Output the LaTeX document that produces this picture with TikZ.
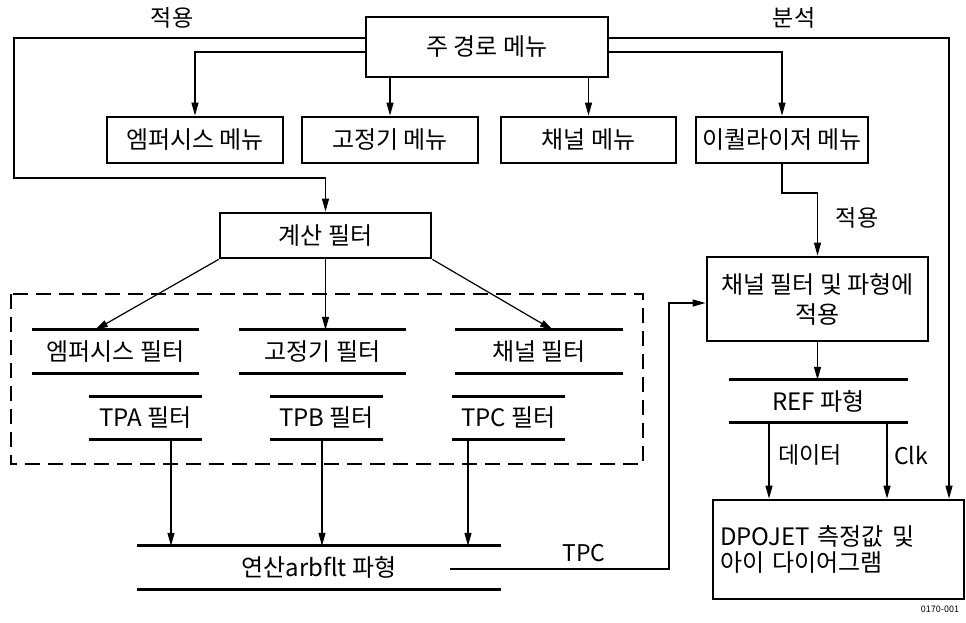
\documentclass[tikz,border=0pt]{standalone}
\usepackage{fontspec}
\setmainfont{Noto Sans CJK KR}
\usetikzlibrary{arrows.meta,calc}
\begin{document}
\begin{tikzpicture}[x=1pt,y=-1pt,
  txt/.style={font=\fontsize{24}{30}\selectfont},
  box/.style={draw,line width=2.8pt,inner sep=0pt,txt},
  bar/.style={inner sep=0pt,txt},
  barline/.style={line width=2.8pt},
  conn/.style={line width=1.2pt,-{Triangle[length=13pt,width=7pt]}},
  lbl/.style={inner sep=0pt,font=\fontsize{23}{26}\selectfont},
  dashbox/.style={line width=1.2pt,dash pattern=on 15pt off 8pt}]
\useasboundingbox (0,0) rectangle (966,623);

% boxes
\node[box,minimum width=242pt,minimum height=60pt] (main) at (487,47) {주 경로 메뉴};
\node[box,minimum width=176pt,minimum height=46pt] (m1) at (195,140) {엠퍼시스 메뉴};
\node[box,minimum width=176pt,minimum height=46pt] (m2) at (390,140) {고정기 메뉴};
\node[box,minimum width=175pt,minimum height=46pt] (m3) at (588.5,140) {채널 메뉴};
\node[box,minimum width=172pt,minimum height=46pt] (m4) at (782,140) {이퀄라이저 메뉴};
\node[box,minimum width=211pt,minimum height=45pt] (calc) at (325.5,235.5) {계산 필터};
\node[box,minimum width=221pt,minimum height=84pt,align=center] (apply) at (817.5,299) {채널 필터 및 파형에\\적용};
\node[box,minimum width=251pt,minimum height=99pt,text width=237pt,align=left,
      font=\fontsize{24}{26}\selectfont] (dpo) at (838.5,549.5) {DPOJET 측정값 및\\아이 다이어그램};

% dashed group
\draw[dashbox] (11,294) rectangle (643,464);

% bar nodes
\node[bar,minimum width=167pt,minimum height=43pt] (f1) at (115.5,351.5) {엠퍼시스 필터};
\node[bar,minimum width=167pt,minimum height=43pt] (f2) at (322.5,351.5) {고정기 필터};
\node[bar,minimum width=168pt,minimum height=43pt] (f3) at (539,351.5) {채널 필터};
\node[bar,minimum width=113pt,minimum height=42pt] (t1) at (145.5,418) {TPA 필터};
\node[bar,minimum width=113pt,minimum height=42pt] (t2) at (326.5,418) {TPB 필터};
\node[bar,minimum width=113pt,minimum height=42pt] (t3) at (508.5,418) {TPC 필터};
\node[bar,minimum width=364pt,minimum height=43pt] (arb) at (319,567.5) {연산arbflt 파형};
\node[bar,minimum width=179pt,minimum height=42pt] (ref) at (818.5,401) {REF 파형};
\foreach \n in {f1,f2,f3,t1,t2,t3,arb,ref}
  \draw[barline] (\n.north west) -- (\n.north east) (\n.south west) -- (\n.south east);

% coordinates
\coordinate (la) at (14,38);
\coordinate (lb) at (14,178);
\coordinate (ya) at (0,52);
\coordinate (ra) at (949,38);
\coordinate (eq) at (0,193);
\coordinate (fa) at (95,330);
\coordinate (fc) at (553,330);
\coordinate (x1) at (171,0);
\coordinate (x2) at (322,0);
\coordinate (x3) at (468,0);
\coordinate (tp1) at (450,569);
\coordinate (tp2) at (669,569);
\coordinate (tp3) at (669,303);
\coordinate (rx1) at (769,0);
\coordinate (rx2) at (887,0);

% connectors
\draw[conn] (main.west |- la) -- (la) -- (lb) -- (calc.north |- lb) -- (calc.north);
\draw[conn] (main.west |- ya) -| (m1.north);
\draw[conn] (main.east |- ya) -| (m4.north);
\draw[conn] (m2.north |- main.south) -- (m2.north);
\draw[conn] (m3.north |- main.south) -- (m3.north);
\draw[conn] (main.east |- ra) -- (ra) -- (ra |- dpo.north);
\draw[conn] (m4.south) -- (m4.south |- eq) -| (apply.north);
\draw[conn] (calc.south west) -- (fa);
\draw[conn] (calc.south) -- (calc.south |- f2.north);
\draw[conn] (calc.south east) -- (fc);
\draw[conn] (t1.south -| x1) -- (arb.north -| x1);
\draw[conn] (t2.south -| x2) -- (arb.north -| x2);
\draw[conn] (t3.south -| x3) -- (arb.north -| x3);
\draw[conn] (tp1) -- (tp2) -- (tp3) -- (apply.west |- tp3);
\draw[conn] (apply.south) -- (apply.south |- ref.north);
\draw[conn] (ref.south -| rx1) -- (dpo.north -| rx1);
\draw[conn] (ref.south -| rx2) -- (dpo.north -| rx2);

% labels
\node[lbl] (l1) at (172,18) {적용};
\node[lbl] (l2) at (794,18) {분석};
\node[lbl] (l3) at (857,218) {적용};
\node[lbl] (l4) at (584,553) {TPC};
\node[lbl] (l5) at (810,455) {데이터};
\node[lbl] (l6) at (911,455) {Clk};
\node[inner sep=0pt,font=\fontsize{9}{10}\selectfont] (l7) at (940,609) {0170-001};
\end{tikzpicture}
\end{document}
